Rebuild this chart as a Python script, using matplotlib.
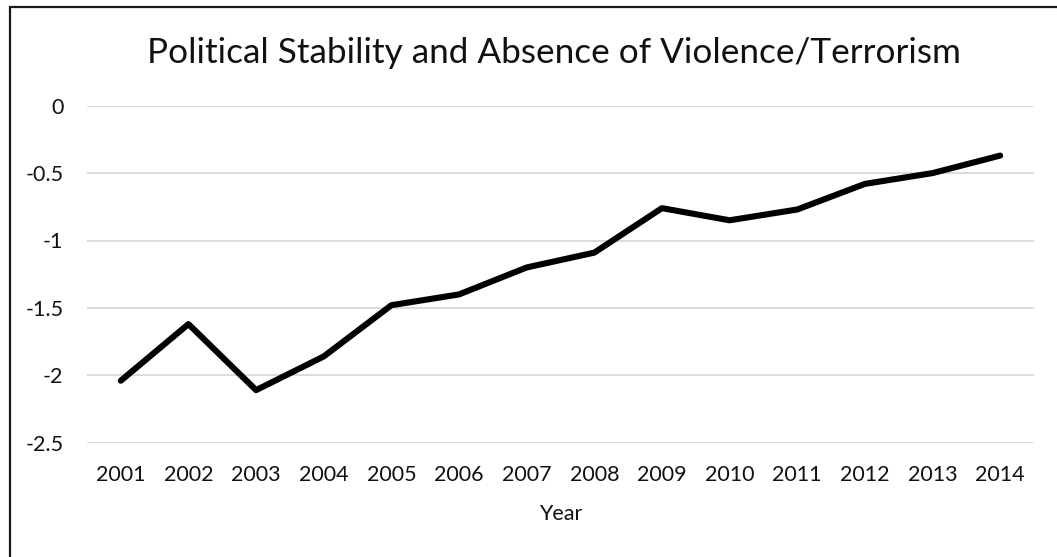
import matplotlib.pyplot as plt
from matplotlib.patches import Rectangle

years = ["2001", "2002", "2003", "2004", "2005", "2006", "2007",
         "2008", "2009", "2010", "2011", "2012", "2013", "2014"]
stability = [-2.04, -1.62, -2.11, -1.86, -1.48, -1.40, -1.20,
             -1.09, -0.76, -0.85, -0.77, -0.58, -0.50, -0.37]
y_ticks = [0, -0.5, -1, -1.5, -2, -2.5]
y_labels = ["0", "-0.5", "-1", "-1.5", "-2", "-2.5"]

plt.rcParams['font.family'] = ['Lato', 'DejaVu Sans']

W, H = 1057, 557
fig = plt.figure(figsize=(W / 100, H / 100), dpi=100)
ax = fig.add_axes([87 / W, 1 - 442.7 / H, (1034 - 87) / W, (442.7 - 105.7) / H])

x = list(range(len(years)))
ax.plot(x, stability, color='black', linewidth=4.4,
        solid_joinstyle='round', solid_capstyle='round', zorder=3)

ax.set_xlim(-0.5, len(years) - 0.5)
ax.set_ylim(-2.5, 0)
ax.set_xticks(x)
ax.set_xticklabels(years)
ax.set_yticks(y_ticks)
ax.set_yticklabels(y_labels)
ax.tick_params(axis='both', length=0, labelsize=15.5, colors='#111111')
ax.tick_params(axis='y', pad=17)
ax.tick_params(axis='x', pad=16)
ax.grid(axis='y', color='#d9d9d9', linewidth=1.3)
ax.set_axisbelow(True)
for s in ax.spines.values():
    s.set_visible(False)

ax.set_xlabel("Year", fontsize=15.5, color='#111111', labelpad=14)

fig.text(554 / W, 1 - 53 / H, "Political Stability and Absence of Violence/Terrorism",
         ha='center', va='center', fontsize=25.3, color='#111111')

# outer frame, only the top and left edges fall inside the canvas
fig.patches.append(Rectangle((10 / W, -0.1), 1.2, 1 - 7 / H + 0.1,
                             transform=fig.transFigure, fill=False,
                             edgecolor='#1a1a1a', linewidth=1.6))

fig.savefig("out.png", dpi=100)
